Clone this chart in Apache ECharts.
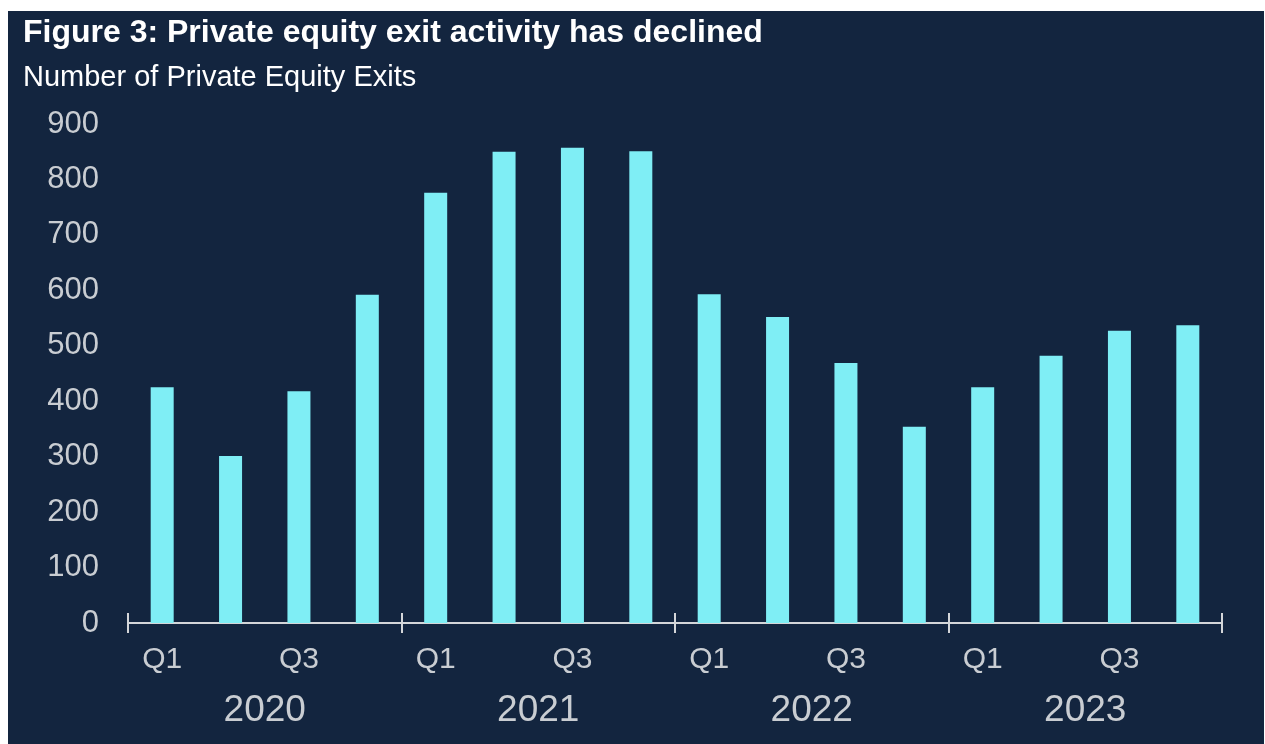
<!DOCTYPE html>
<html><head><meta charset="utf-8">
<script src="https://cdn.jsdelivr.net/npm/echarts@6/dist/echarts.min.js"></script>
<style>
html,body{margin:0;padding:0;background:#ffffff;width:1265px;height:744px;overflow:hidden}
#c{position:absolute;left:8px;top:11px;width:1256px;height:733px;}
</style>
</head><body><div id="c"></div>
<script>
const titleText = 'Figure 3: Private equity exit activity has declined';
const subtitleText = 'Number of Private Equity Exits';
const years = ['2020', '2021', '2022', '2023'];
const quarters = ['Q1', 'Q2', 'Q3', 'Q4'];
const exits = [425, 301, 418, 592, 776, 850, 857, 851, 593, 552, 469, 354, 425, 482, 527, 537];
const yMin = 0, yMax = 900, yInterval = 100;

const categories = years.flatMap(y => quarters.map(q => y + ' ' + q));
const FONT = '"Liberation Sans", Arial, sans-serif';
const LABEL = '#c9cdd2';
const AXIS = '#d4d6d9';

const chart = echarts.init(document.getElementById('c'), null, {renderer: 'canvas'});
chart.setOption({
  backgroundColor: '#13253f',
  animation: false,
  title: [
    {text: titleText, left: 15, top: 6, padding: 0,
     textStyle: {color: '#ffffff', fontSize: 32, fontWeight: 'bold', fontFamily: FONT}},
    {text: subtitleText, left: 15, top: 52, padding: 0,
     textStyle: {color: '#ffffff', fontSize: 29, fontWeight: 'normal', fontFamily: FONT}}
  ],
  grid: {left: 120, right: 42, top: 113, bottom: 121, containLabel: false, outerBoundsMode: 'none'},
  xAxis: [
    {type: 'category', data: categories, position: 'bottom', boundaryGap: true,
     axisLine: {show: true, lineStyle: {color: AXIS, width: 2}},
     axisTick: {show: false},
     axisLabel: {interval: 1, margin: 22, color: LABEL, fontSize: 30, fontFamily: FONT,
                 formatter: v => v.split(' ')[1]}},
    {type: 'category', data: years, position: 'bottom', boundaryGap: true,
     axisLine: {show: false},
     axisTick: {show: true, inside: false, length: 10, lineStyle: {color: AXIS, width: 2}},
     axisLabel: {interval: 0, margin: 69, color: LABEL, fontSize: 37, fontFamily: FONT}},
    {type: 'category', data: years, position: 'bottom', boundaryGap: true,
     axisLine: {show: false},
     axisTick: {show: true, inside: true, length: 10, lineStyle: {color: AXIS, width: 2}},
     axisLabel: {show: false}}
  ],
  yAxis: {type: 'value', min: yMin, max: yMax, interval: yInterval,
    axisLine: {show: false}, axisTick: {show: false}, splitLine: {show: false},
    axisLabel: {color: LABEL, fontSize: 31, fontFamily: FONT, margin: 29}},
  series: [{type: 'bar', xAxisIndex: 0, data: exits, barWidth: 23,
    itemStyle: {color: '#7feef5'}}]
});
</script>
</body></html>
